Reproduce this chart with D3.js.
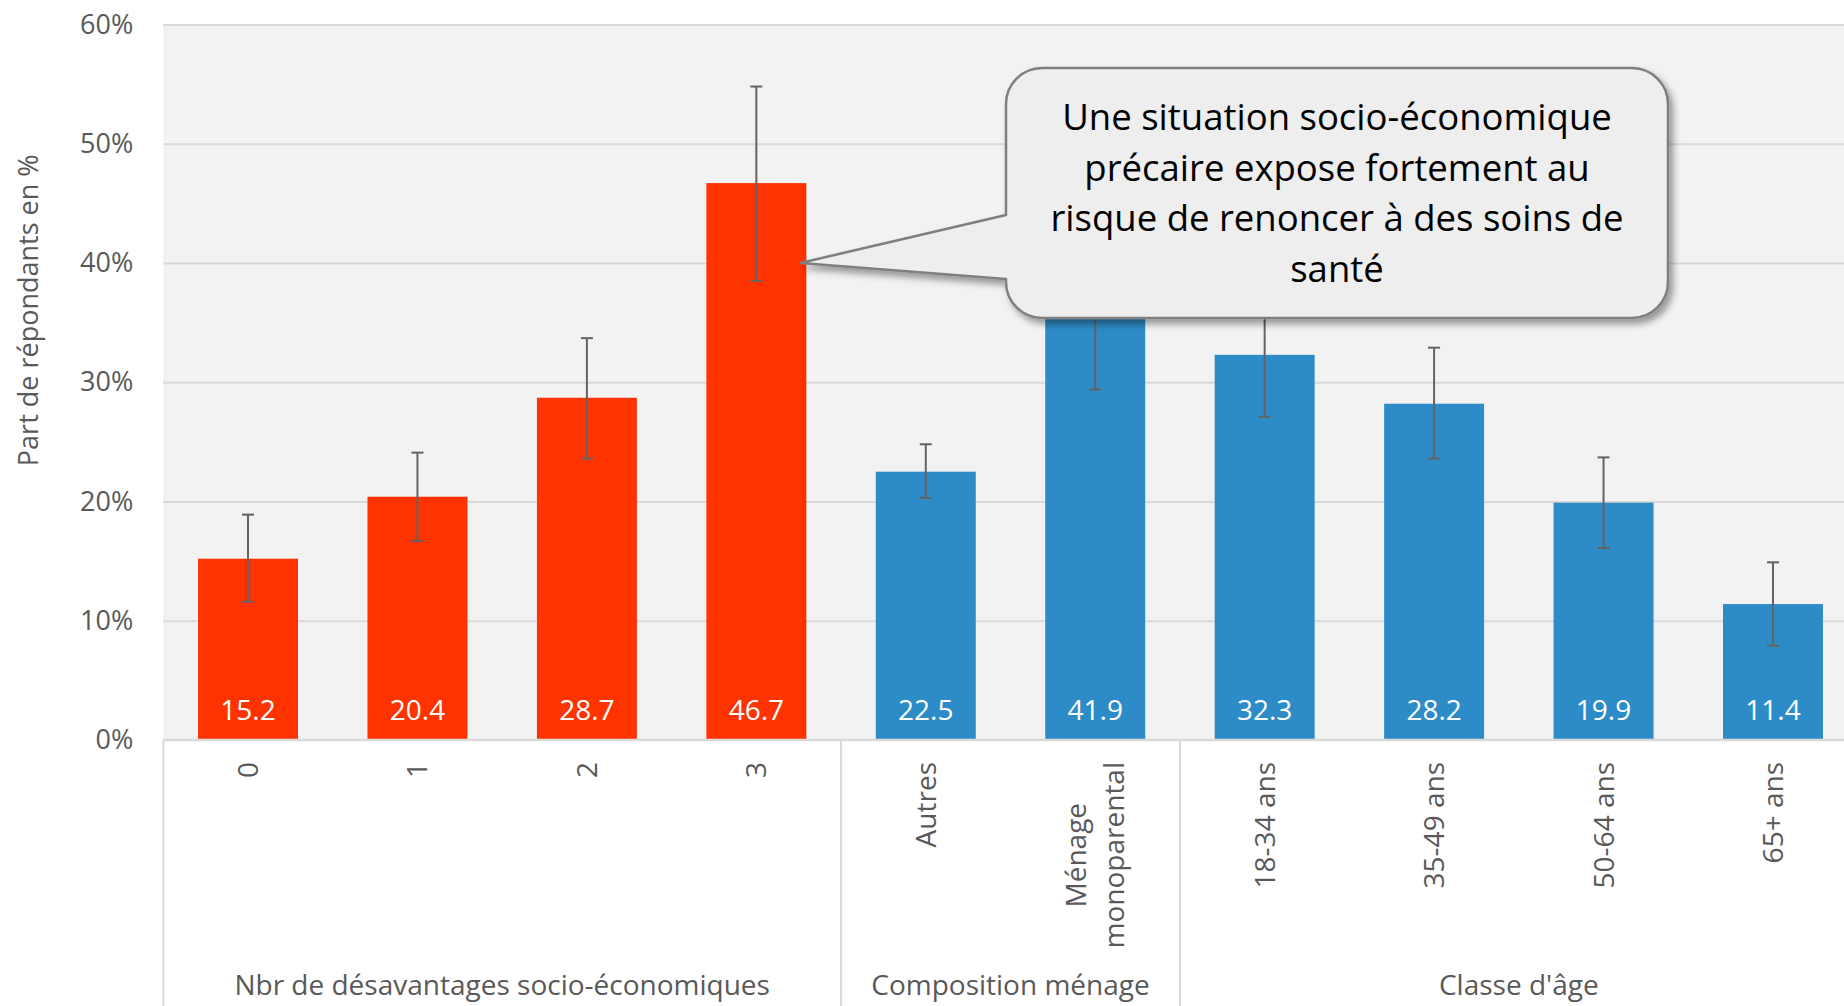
<!DOCTYPE html>
<html>
<head>
<meta charset="utf-8">
<script src="https://cdn.jsdelivr.net/npm/d3@7/dist/d3.min.js"></script>
<style>
  html, body { margin: 0; padding: 0; background: #ffffff; }
  svg { display: block; font-family: "Open Sans", "Noto Sans", sans-serif; }
</style>
</head>
<body>
<svg id="chart" width="1844" height="1006"></svg>
<script>
// ---- data ----
const groups = ["Nbr de désavantages socio-économiques", "Composition ménage", "Classe d'âge"];
const categories = ["0", "1", "2", "3", "Autres", "Ménage\nmonoparental", "18-34 ans", "35-49 ans", "50-64 ans", "65+ ans"];
const categoryGroup = [0, 0, 0, 0, 1, 1, 2, 2, 2, 2];
const values = [15.2, 20.4, 28.7, 46.7, 22.5, 41.9, 32.3, 28.2, 19.9, 11.4];
const errLow = [11.6, 16.7, 23.6, 38.5, 20.3, 29.4, 27.1, 23.6, 16.1, 7.9];
const errHigh = [18.9, 24.1, 33.7, 54.8, 24.8, 54.4, 37.5, 32.9, 23.7, 14.9];
const groupColors = ["#ff3300", "#2d8bc7", "#2d8bc7"];
const yTicks = [0, 10, 20, 30, 40, 50, 60];
const yTitle = "Part de répondants en %";
const calloutLines = ["Une situation socio-économique", "précaire expose fortement au", "risque de renoncer à des soins de", "santé"];
const calloutTarget = { category: "3", value: 40 };

// ---- layout ----
const W = 1844, H = 1006;
const plot = { left: 163.3, right: 1857.7, top: 24.5, bottom: 740 };
const svg = d3.select("#chart");

const x = d3.scaleBand().domain(categories).range([plot.left, plot.right])
  .paddingInner(0.41).paddingOuter(0.205);
const y = d3.scaleLinear().domain([0, 60]).range([plot.bottom, plot.top]);
const step = x.step();

// defs
const defs = svg.append("defs");
const f = defs.append("filter").attr("id", "shadow").attr("x", "-10%").attr("y", "-10%").attr("width", "130%").attr("height", "140%");
f.append("feDropShadow").attr("dx", 4).attr("dy", 5).attr("stdDeviation", 3.5)
  .attr("flood-color", "#000").attr("flood-opacity", 0.38);

// plot background
svg.append("rect").attr("x", plot.left).attr("y", y(60)).attr("width", W - plot.left).attr("height", y(0) - y(60)).attr("fill", "#f2f2f2");

// gridlines
const grid = svg.append("g").attr("transform", `translate(${plot.left},0)`)
  .call(d3.axisLeft(y).tickValues(yTicks.slice(1)).tickSize(-(plot.right - plot.left)).tickFormat(""));
grid.select(".domain").remove();
grid.selectAll(".tick line").attr("stroke", "#d9d9d9").attr("stroke-width", 2);

// y tick labels
const yAxis = svg.append("g").attr("transform", `translate(${plot.left},0)`)
  .call(d3.axisLeft(y).tickValues(yTicks).tickSize(0).tickPadding(30).tickFormat(d => d + "%"));
yAxis.select(".domain").remove();
yAxis.selectAll("text").attr("fill", "#595959").style("font-size", "27px").style("font-family", "'Open Sans', sans-serif");

// y title
svg.append("text").attr("transform", `translate(37.5,${(plot.top + plot.bottom) / 2 - 72}) rotate(-90)`)
  .attr("text-anchor", "middle").attr("fill", "#595959").style("font-size", "27px").text(yTitle);

// bars
const idx = d3.range(categories.length);
svg.append("g").selectAll("rect").data(idx).join("rect")
  .attr("x", i => x(categories[i])).attr("width", x.bandwidth())
  .attr("y", i => y(values[i])).attr("height", i => y(0) - y(values[i]))
  .attr("fill", i => groupColors[categoryGroup[i]]);

// value labels
svg.append("g").selectAll("text").data(idx).join("text")
  .attr("x", i => x(categories[i]) + x.bandwidth() / 2).attr("y", y(0) - 20.5)
  .attr("text-anchor", "middle").attr("fill", "#ffffff").style("font-size", "28px")
  .text(i => values[i].toFixed(1));

// error bars
const eb = svg.append("g").attr("stroke", "#636363").attr("stroke-width", 2).attr("fill", "none");
idx.forEach(i => {
  const cx = x(categories[i]) + x.bandwidth() / 2;
  eb.append("line").attr("x1", cx).attr("x2", cx).attr("y1", y(errLow[i])).attr("y2", y(errHigh[i]));
  eb.append("line").attr("x1", cx - 6).attr("x2", cx + 6).attr("y1", y(errLow[i])).attr("y2", y(errLow[i]));
  eb.append("line").attr("x1", cx - 6).attr("x2", cx + 6).attr("y1", y(errHigh[i])).attr("y2", y(errHigh[i]));
});

// x axis line
svg.append("line").attr("x1", plot.left).attr("x2", W).attr("y1", y(0)).attr("y2", y(0))
  .attr("stroke", "#d9d9d9").attr("stroke-width", 2.5);

// group separators (left edge + between groups)
const groupStarts = groups.map((g, gi) => categoryGroup.indexOf(gi));
const groupEnds = groups.map((g, gi) => categoryGroup.lastIndexOf(gi) + 1);
const sepX = k => plot.left + k * step;
const seps = [0].concat(groupEnds.slice(0, -1));
svg.append("g").selectAll("line").data(seps).join("line")
  .attr("x1", k => sepX(k)).attr("x2", k => sepX(k)).attr("y1", y(0)).attr("y2", H)
  .attr("stroke", "#d9d9d9").attr("stroke-width", 2);

// category labels (rotated, multi-line centered)
const labelTop = y(0) + 22;
const lineGap = 38;
idx.forEach(i => {
  const lines = categories[i].split("\n");
  const cx = x(categories[i]) + x.bandwidth() / 2;
  const g = svg.append("g");
  const texts = lines.map((ln, li) => g.append("text").attr("fill", "#595959").style("font-size", "28px")
    .attr("text-anchor", "middle").text(ln));
  const maxLen = d3.max(texts, t => t.node().getComputedTextLength());
  const n = lines.length;
  texts.forEach((t, li) => {
    const bx = cx + (li - (n - 1) / 2) * lineGap + 10;
    t.attr("transform", `translate(${bx},${labelTop + maxLen / 2}) rotate(-90)`);
  });
});

// group labels
svg.append("g").selectAll("text").data(groups).join("text")
  .attr("x", (g, gi) => (sepX(groupStarts[gi]) + Math.min(sepX(groupEnds[gi]), plot.right)) / 2)
  .attr("y", 995).attr("text-anchor", "middle").attr("fill", "#595959").style("font-size", "28px")
  .text(d => d);

// callout
const box = { x0: 1006, x1: 1668, y0: 68, y1: 318, r: 36 };
const tailA = 215, tailB = 279;
const tip = [x(calloutTarget.category) + x.bandwidth() - 6, y(calloutTarget.value)];
const p = d3.path();
p.moveTo(box.x0 + box.r, box.y0);
p.lineTo(box.x1 - box.r, box.y0);
p.arcTo(box.x1, box.y0, box.x1, box.y0 + box.r, box.r);
p.lineTo(box.x1, box.y1 - box.r);
p.arcTo(box.x1, box.y1, box.x1 - box.r, box.y1, box.r);
p.lineTo(box.x0 + box.r, box.y1);
p.arcTo(box.x0, box.y1, box.x0, box.y1 - box.r, box.r);
p.lineTo(box.x0, tailB);
p.lineTo(tip[0], tip[1]);
p.lineTo(box.x0, tailA);
p.lineTo(box.x0, box.y0 + box.r);
p.arcTo(box.x0, box.y0, box.x0 + box.r, box.y0, box.r);
p.closePath();
svg.append("path").attr("d", p.toString()).attr("fill", "#eeeeee").attr("stroke", "#7f7f7f")
  .attr("stroke-width", 2.5).attr("stroke-linejoin", "round").attr("filter", "url(#shadow)");

const cxText = (box.x0 + box.x1) / 2;
svg.append("g").selectAll("text").data(calloutLines).join("text")
  .attr("x", cxText).attr("y", (d, i) => 130 + i * 50.7)
  .attr("text-anchor", "middle").attr("fill", "#000000").style("font-size", "36.5px")
  .text(d => d);
</script>
</body>
</html>
